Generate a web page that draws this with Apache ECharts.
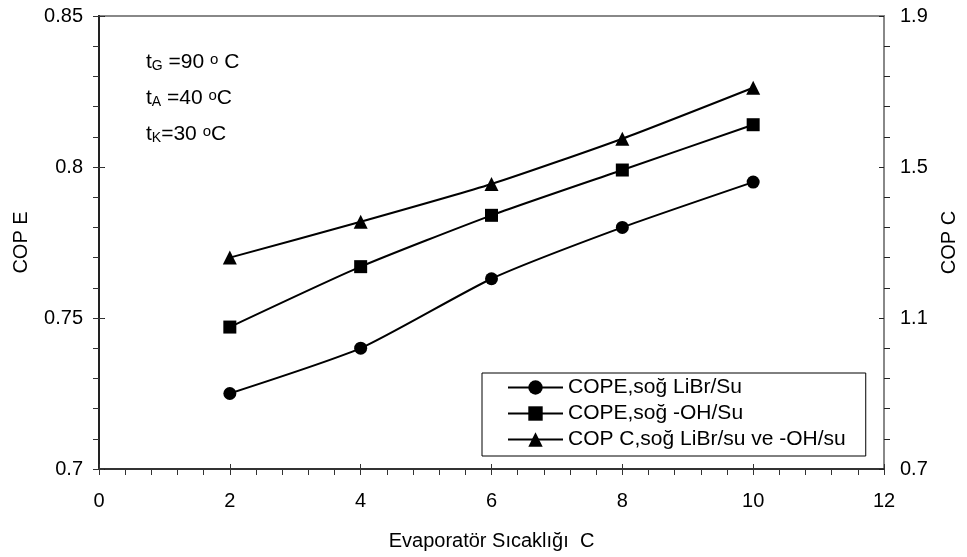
<!DOCTYPE html>
<html>
<head>
<meta charset="utf-8">
<script src="https://cdn.jsdelivr.net/npm/echarts@6/dist/echarts.min.js"></script>
<style>
  html, body { margin: 0; padding: 0; background: #fff; }
  #chart { width: 967px; height: 557px; }
</style>
</head>
<body>
<div id="chart"></div>
<script>
// Evaporator temperature (°C) on the x axis
const evapTemps = [2, 4, 6, 8, 10];
// COP E values (left axis)
const copeLiBr = [0.725, 0.740, 0.763, 0.780, 0.795];
const copeOH = [0.747, 0.767, 0.784, 0.799, 0.814];
// COP C values (right axis)
const copC = [1.26, 1.355, 1.455, 1.575, 1.71];

const seriesNames = ['COPE,soğ LiBr/Su', 'COPE,soğ -OH/Su', 'COP C,soğ LiBr/su ve -OH/su'];
const rightTicks = [0.7, 1.1, 1.5, 1.9];

// minor tick positions on the right axis: four between each labelled value
const rightMinor = [];
for (let i = 0; i < rightTicks.length - 1; i++) {
  const step = (rightTicks[i + 1] - rightTicks[i]) / 5;
  for (let k = 1; k < 5; k++) rightMinor.push(+(rightTicks[i] + step * k).toFixed(3));
}

const FONT = 'Liberation Sans, Arial, Helvetica, sans-serif';
const AXIS_COLOR = '#333';
const TXT = '#000';
const FS = 20;

const pairs = (ys) => evapTemps.map((t, i) => [t, ys[i]]);

const chart = echarts.init(document.getElementById('chart'), null, { renderer: 'canvas' });

const lineSeries = (name, data, symbol, size, yIndex) => ({
  name, type: 'line', data, yAxisIndex: yIndex,
  symbol, symbolSize: size, smooth: 0.2,
  lineStyle: { color: '#000', width: 2 },
  itemStyle: { color: '#000' },
  emphasis: { disabled: true },
  animation: false
});

const hiddenLabel = { show: false };
const noSplit = { show: false };

const richNote = {
  sub: { fontSize: 14, fontFamily: FONT, fill: TXT, verticalAlign: 'bottom', lineHeight: 12 },
  sup: { fontSize: 15, fontFamily: FONT, fill: TXT, verticalAlign: 'top', lineHeight: 12 }
};

chart.setOption({
  animation: false,
  textStyle: { fontFamily: FONT },
  grid: {
    left: 99, right: 80, top: 16, bottom: 88,
    show: true, borderColor: '#888', borderWidth: 2, backgroundColor: 'transparent'
  },
  legend: {
    orient: 'vertical', left: 482, top: 373,
    backgroundColor: '#fff', borderColor: '#000', borderWidth: 1,
    padding: [4, 20, 6, 25],
    itemWidth: 55, itemHeight: 18, itemGap: 5,
    lineStyle: { width: 2, color: '#000' },
    textStyle: { fontSize: 21, color: TXT, fontFamily: FONT, lineHeight: 20 },
    data: seriesNames
  },
  xAxis: [
    {
      type: 'value', min: 0, max: 12, interval: 2, position: 'bottom',
      name: 'Evaporatör Sıcaklığı  C', nameLocation: 'middle', nameGap: 62,
      nameTextStyle: { fontSize: FS, color: TXT, fontFamily: FONT },
      axisLine: { lineStyle: { color: AXIS_COLOR, width: 2 } },
      axisTick: { length: 6, lineStyle: { color: AXIS_COLOR, width: 1 } },
      minorTick: { show: true, splitNumber: 5, length: 6, lineStyle: { color: AXIS_COLOR, width: 1 } },
      axisLabel: { fontSize: FS, color: TXT, margin: 22, fontFamily: FONT },
      splitLine: noSplit, minorSplitLine: noSplit
    },
    {
      // inner half of the crossing major ticks
      type: 'value', min: 0, max: 12, interval: 2, position: 'bottom',
      axisLine: { show: false },
      axisTick: { inside: true, length: 5, lineStyle: { color: AXIS_COLOR, width: 1 } },
      axisLabel: hiddenLabel, splitLine: noSplit
    }
  ],
  yAxis: [
    {
      type: 'value', min: 0.7, max: 0.85, interval: 0.05, position: 'left',
      name: 'COP E', nameLocation: 'middle', nameGap: 68,
      nameTextStyle: { fontSize: FS, color: TXT, fontFamily: FONT },
      axisLine: { show: true, lineStyle: { color: AXIS_COLOR, width: 2 } },
      axisTick: { show: true, length: 6, lineStyle: { color: AXIS_COLOR, width: 1 } },
      minorTick: { show: true, splitNumber: 5, length: 6, lineStyle: { color: AXIS_COLOR, width: 1 } },
      axisLabel: { fontSize: FS, color: TXT, margin: 16, fontFamily: FONT },
      splitLine: noSplit, minorSplitLine: noSplit
    },
    {
      type: 'value', min: 0.7, max: 1.9, position: 'right',
      name: 'COP C', nameLocation: 'middle', nameGap: 55,
      nameTextStyle: { fontSize: FS, color: TXT, fontFamily: FONT },
      axisLine: { show: true, lineStyle: { color: '#222', width: 2 } },
      axisTick: { show: true, length: 6, customValues: rightTicks, lineStyle: { color: '#222', width: 1 } },
      axisLabel: { fontSize: FS, color: TXT, margin: 16, fontFamily: FONT, customValues: rightTicks,
        formatter: (v) => v.toFixed(1) },
      splitLine: noSplit
    },
    {
      // inner half of the crossing major ticks, left
      type: 'value', min: 0.7, max: 0.85, interval: 0.05, position: 'left',
      axisLine: { show: false },
      axisTick: { show: true, inside: true, length: 5, lineStyle: { color: AXIS_COLOR, width: 1 } },
      axisLabel: hiddenLabel, splitLine: noSplit
    },
    {
      // inner half of the crossing major ticks, right
      type: 'value', min: 0.7, max: 1.9, position: 'right',
      axisLine: { show: false },
      axisTick: { show: true, inside: true, length: 5, customValues: rightTicks, lineStyle: { color: '#222', width: 1 } },
      axisLabel: { show: false, customValues: rightTicks }, splitLine: noSplit
    },
    {
      // minor ticks, right
      type: 'value', min: 0.7, max: 1.9, position: 'right',
      axisLine: { show: false },
      axisTick: { show: true, length: 6, customValues: rightMinor, lineStyle: { color: '#222', width: 1 } },
      axisLabel: { show: false, customValues: rightMinor }, splitLine: noSplit
    }
  ],
  graphic: [
    {
      type: 'text', left: 146, top: 52,
      style: { text: 't{sub|G} =90 {sup|o} C', font: '21px ' + FONT, fill: TXT, rich: richNote }
    },
    {
      type: 'text', left: 146, top: 88,
      style: { text: 't{sub|A} =40 {sup|o}C', font: '21px ' + FONT, fill: TXT, rich: richNote }
    },
    {
      type: 'text', left: 146, top: 124,
      style: { text: 't{sub|K}=30 {sup|o}C', font: '21px ' + FONT, fill: TXT, rich: richNote }
    }
  ],
  series: [
    lineSeries(seriesNames[0], pairs(copeLiBr), 'circle', 13, 0),
    lineSeries(seriesNames[1], pairs(copeOH), 'rect', 13, 0),
    lineSeries(seriesNames[2], pairs(copC), 'triangle', 14, 1)
  ]
});
</script>
</body>
</html>
